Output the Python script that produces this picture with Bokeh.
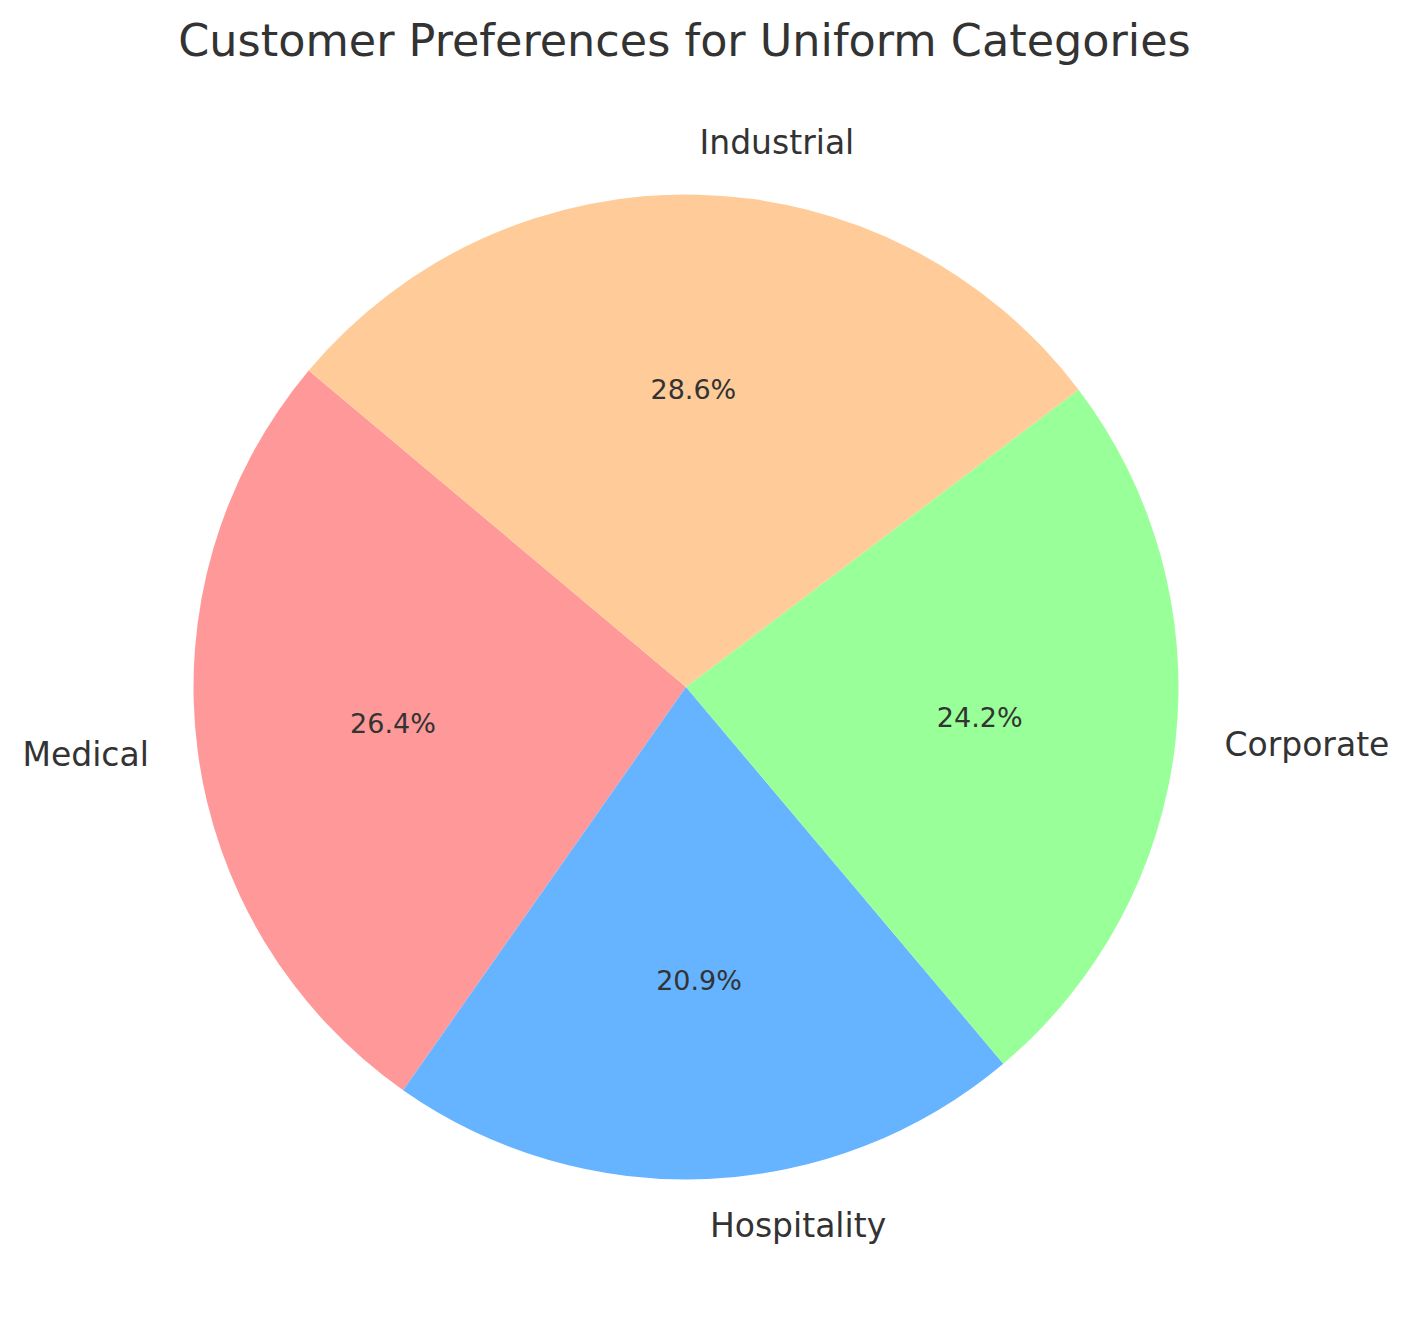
import math
from bokeh.plotting import figure
from bokeh.models import ColumnDataSource
from bokeh.core.properties import value
from bokeh.embed import file_html
from bokeh.resources import INLINE

# ---- data ----
categories = ["Medical", "Hospitality", "Corporate", "Industrial"]
counts = [120, 95, 110, 130]
colors = ["#ff9999", "#66b3ff", "#99ff99", "#ffcc99"]
title_text = "Customer Preferences for Uniform Categories"
start_deg = 140.0

# ---- layout (pixel units) ----
W, H = 1394, 1306
cx, cy = 685.5, 686.5      # pie centre measured from figure top-left
R = 492.5
FONT = "DejaVu Sans"
TXT = "#333333"

total = float(sum(counts))
starts, ends, mids = [], [], []
a = math.radians(start_deg)
for c in counts:
    span = 2 * math.pi * c / total
    starts.append(a)
    ends.append(a + span)
    mids.append(a + span / 2)
    a += span

p = figure(width=W, height=H, x_range=(-cx, W - cx), y_range=(-(H - cy), cy),
           output_backend="svg", toolbar_location=None, min_border=0,
           background_fill_color="white", border_fill_color="white")
p.axis.visible = False
p.grid.visible = False
p.outline_line_color = None

src = ColumnDataSource(dict(start=starts, end=ends, color=colors))
p.wedge(x=0, y=0, radius=R, start_angle="start", end_angle="end",
        fill_color="color", line_color=None, source=src)

# category labels at 1.1 R
for name, m in zip(categories, mids):
    x = 1.1 * R * math.cos(m)
    y = 1.1 * R * math.sin(m)
    p.text(x=[x], y=[y], text=[name], text_font=value(FONT), text_font_size="33px",
           text_color=TXT, text_align="left" if x > 0 else "right",
           text_baseline="middle", y_offset=-3)

# percentage labels at 0.6 R
for c, m in zip(counts, mids):
    x = 0.6 * R * math.cos(m)
    y = 0.6 * R * math.sin(m)
    p.text(x=[x], y=[y], text=["%.1f%%" % (100 * c / total)], text_font=value(FONT),
           text_font_size="27px", text_color=TXT, text_align="center",
           text_baseline="middle", y_offset=-2)

# title
p.text(x=[684 - cx], y=[cy - 40], text=[title_text], text_font=value(FONT),
       text_font_size="44.5px", text_color=TXT, text_align="center",
       text_baseline="alphabetic")

open("out.html", "w").write(file_html(p, INLINE))
